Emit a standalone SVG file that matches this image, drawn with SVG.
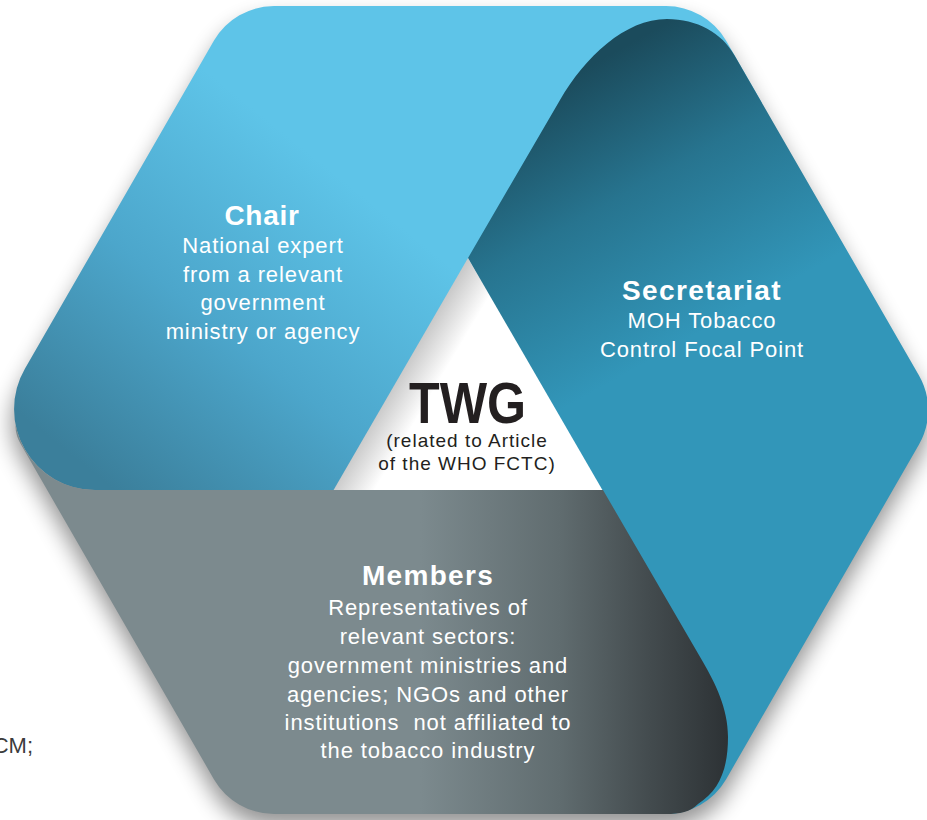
<svg xmlns="http://www.w3.org/2000/svg" width="927" height="820" viewBox="0 0 927 820">
<defs>
<style>
.t{font-family:"Liberation Sans",Arial,sans-serif;fill:#fff;text-anchor:middle}
.h{font-size:28px;font-weight:bold}
.b{font-size:22px;letter-spacing:0.9px}
.k{font-family:"Liberation Sans",Arial,sans-serif;fill:#231f20}
</style>
<filter id="blur" x="-10%" y="-10%" width="120%" height="120%"><feGaussianBlur stdDeviation="11"/></filter>
<linearGradient id="gChair" gradientUnits="userSpaceOnUse" x1="90" y1="470" x2="330" y2="170">
<stop offset="0" stop-color="#3b7f9b"/><stop offset="0.5" stop-color="#4ca6cb"/><stop offset="1" stop-color="#5ec4e8"/>
</linearGradient>
<linearGradient id="gSec" gradientUnits="userSpaceOnUse" x1="600" y1="60" x2="740" y2="310">
<stop offset="0" stop-color="#1b4b5c"/><stop offset="0.45" stop-color="#27748f"/><stop offset="1" stop-color="#3296b9"/>
</linearGradient>
<linearGradient id="gMem" gradientUnits="userSpaceOnUse" x1="420" y1="0" x2="735" y2="0">
<stop offset="0" stop-color="#7c8a8e"/><stop offset="0.444" stop-color="#606c6f"/><stop offset="0.73" stop-color="#434b4e"/><stop offset="0.984" stop-color="#2c3134"/>
</linearGradient>
<linearGradient id="gTri" gradientUnits="userSpaceOnUse" x1="400" y1="374" x2="432" y2="393">
<stop offset="0" stop-color="#c9c9c9"/><stop offset="1" stop-color="#ffffff"/>
</linearGradient>
</defs>
<rect width="927" height="820" fill="#fff"/>
<path d="M21,375.4 L214,40.6 A70,70 0 0 1 274,6 L666,6 A70,70 0 0 1 726,40.6 L919,375.4 A70,70 0 0 1 919,444.6 L726,779.4 A70,70 0 0 1 666,814 L274,814 A70,70 0 0 1 214,779.4 L21,444.6 A70,70 0 0 1 21,375.4 Z" fill="#000" opacity="0.42" filter="url(#blur)" transform="translate(0,13)"/>
<text x="33" y="753" style="font-family:'Liberation Sans',Arial,sans-serif;font-size:22px;fill:#3c3c3c;text-anchor:end">CM;</text>
<g id="node-chair">
<path d="M24.9,368.8 L214,40.6 A70,70 0 0 1 274,6 L666,6 A70,70 0 0 1 726,40.6 L762,103 L470,300 L330,500 L94.9,500 L94.9,490 A80.8,80.8 0 0 1 24.9,368.8 Z" fill="url(#gChair)"/>
</g>
<g id="node-secretariat">
<path d="M468,258 L560,100 C585,57 625,19 667,19 C697,19 722,33 734.3,55 L919,375.4 A70,70 0 0 1 919,444.6 L726,779.4 A70,70 0 0 1 666,814 L640,814 L590,480 Z" fill="url(#gSec)"/>
</g>
<g id="node-twg">
<path d="M468,258 L333,491 L603,491 Z" fill="url(#gTri)"/>
</g>
<g id="node-members">
<path d="M94.9,490 L603,490 L703,662 C715,683 728,708 728,737 C728,768 720,790 698,804 C690,812 680,814 666,814 L274,814 A70,70 0 0 1 214,779.4 L21,444.6 Q14.8,434 15.7,425 A80.8,80.8 0 0 0 94.9,490 Z" fill="url(#gMem)"/>
</g>
<g id="labels-chair">
<text class="t h" x="262" y="225" style="letter-spacing:0.7px">Chair</text>
<text class="t b" x="263" y="253">National expert</text>
<text class="t b" x="263" y="282">from a relevant</text>
<text class="t b" x="263" y="310">government</text>
<text class="t b" x="263" y="339">ministry or agency</text>
</g>
<g id="labels-secretariat">
<text class="t h" x="702" y="300" style="letter-spacing:1.4px">Secretariat</text>
<text class="t b" x="702" y="328">MOH Tobacco</text>
<text class="t b" x="702" y="357">Control Focal Point</text>
</g>
<g id="labels-twg">
<text class="k" x="409" y="423" textLength="117" lengthAdjust="spacingAndGlyphs" style="font-size:58px;font-weight:bold">TWG</text>
<text class="k" x="467" y="447" style="font-size:19px;letter-spacing:1px;text-anchor:middle">(related to Article</text>
<text class="k" x="467" y="470" style="font-size:19px;letter-spacing:1px;text-anchor:middle">of the WHO FCTC)</text>
</g>
<g id="labels-members">
<text class="t h" x="428" y="585" style="letter-spacing:1.3px">Members</text>
<text class="t b" x="428" y="615">Representatives of</text>
<text class="t b" x="428" y="644">relevant sectors:</text>
<text class="t b" x="428" y="673">government ministries and</text>
<text class="t b" x="428" y="702">agencies; NGOs and other</text>
<text class="t b" x="428" y="730" xml:space="preserve">institutions  not affiliated to</text>
<text class="t b" x="428" y="758">the tobacco industry</text>
</g>
<g id="connectors"/>
</svg>
